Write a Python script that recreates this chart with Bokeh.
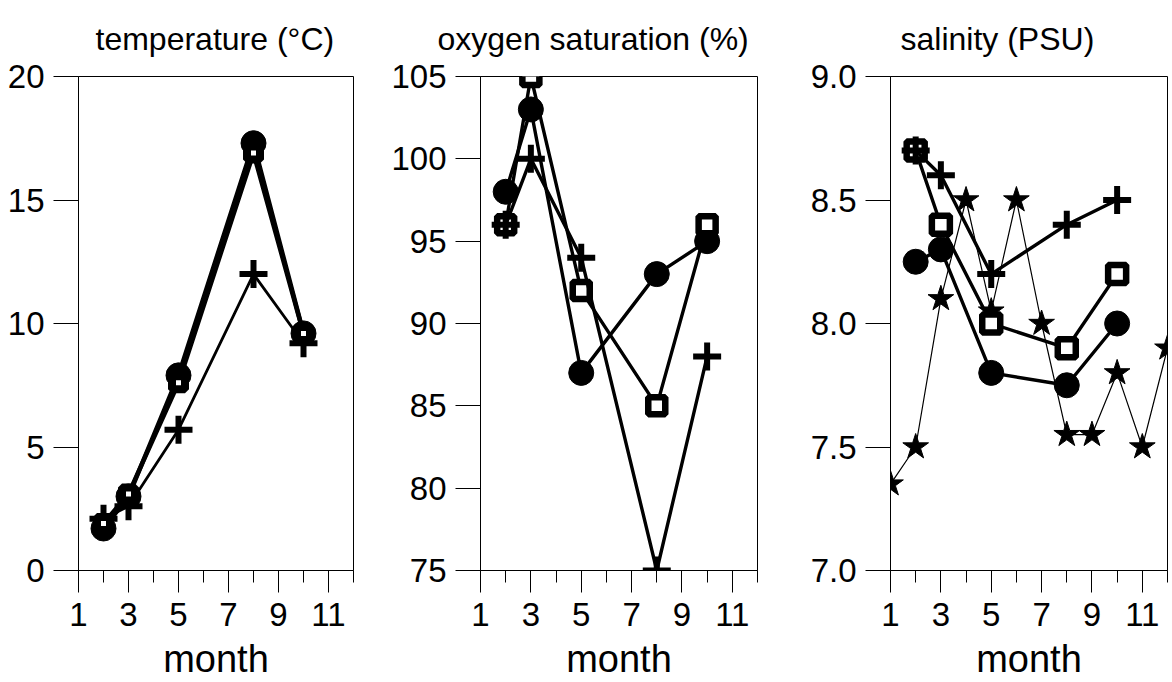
from bokeh.plotting import figure
from bokeh.models import Range1d, FixedTicker, NumeralTickFormatter
from bokeh.layouts import row
from bokeh.embed import file_html
from bokeh.resources import INLINE

# ---------------- data ----------------
months = [2, 3, 5, 8, 10]

temp_circle = [1.7, 3.0, 7.9, 17.3, 9.6]
temp_square = [1.9, 3.1, 7.6, 16.9, 9.6]
temp_plus = [2.1, 2.6, 5.7, 12.0, 9.2]

oxy_circle = [98, 103, 87, 93, 95]
oxy_square = [96, 105, 92, 85, 96]
oxy_plus = [96, 100, 94, 75, 88]

sal_circle = [8.25, 8.3, 7.8, 7.75, 8.0]
sal_square = [8.7, 8.4, 8.0, 7.9, 8.2]
sal_plus = [8.7, 8.6, 8.2, 8.4, 8.5]

star_months = [1, 2, 3, 4, 5, 6, 7, 8, 9, 10, 11, 12]
sal_star = [7.35, 7.5, 8.1, 8.5, 8.05, 8.5, 8.0, 7.55, 7.55, 7.8, 7.5, 7.9]

titles = ["temperature (\u00b0C)", "oxygen saturation (%)", "salinity (PSU)"]
x_label = "month"
x_major = [1, 3, 5, 7, 9, 11]
x_minor = [2, 4, 6, 8, 10, 12]
temp_ticks = [0, 5, 10, 15, 20]
oxy_ticks = [75, 80, 85, 90, 95, 100, 105]
sal_ticks = [7.0, 7.5, 8.0, 8.5, 9.0]

FONT = "Liberation Sans"


def make_fig(title, width, mbl, mbr, yr, yticks, fmt, title_offset, title_standoff):
    p = figure(width=width, height=682, output_backend="svg", toolbar_location=None,
               x_range=Range1d(1, 12), y_range=Range1d(*yr),
               min_border_left=mbl, min_border_right=mbr,
               min_border_top=76, min_border_bottom=60,
               background_fill_color="white", border_fill_color="white")
    p.title.text = title
    p.title.text_font = FONT
    p.title.text_font_size = "32px"
    p.title.text_font_style = "normal"
    p.title.text_color = "black"
    p.title.align = "left"
    p.title.offset = title_offset
    p.title.vertical_align = "top"
    p.title.standoff = title_standoff
    p.grid.visible = False
    p.outline_line_color = "black"
    p.outline_line_width = 1
    p.outline_line_alpha = 1

    xa = p.xaxis[0]
    xa.ticker = FixedTicker(ticks=x_major, minor_ticks=x_minor)
    xa.axis_label = x_label
    xa.axis_label_text_font = FONT
    xa.axis_label_text_font_size = "38px"
    xa.axis_label_text_font_style = "normal"
    xa.axis_label_text_color = "black"
    xa.axis_label_standoff = 9
    xa.major_label_text_font = FONT
    xa.major_label_text_font_size = "33px"
    xa.major_label_text_color = "black"
    xa.major_label_standoff = 10
    xa.major_tick_out = 22
    xa.major_tick_in = 0
    xa.minor_tick_out = 12
    xa.minor_tick_in = 0
    xa.major_tick_line_color = "black"
    xa.minor_tick_line_color = "black"
    xa.axis_line_color = "black"

    ya = p.yaxis[0]
    ya.ticker = FixedTicker(ticks=yticks, minor_ticks=[])
    if fmt:
        ya.formatter = NumeralTickFormatter(format=fmt)
    ya.major_label_text_font = FONT
    ya.major_label_text_font_size = "33px"
    ya.major_label_text_color = "black"
    ya.major_label_standoff = 9
    ya.major_tick_out = 25
    ya.major_tick_in = 0
    ya.major_tick_line_color = "black"
    ya.minor_tick_line_color = None
    ya.axis_line_color = "black"
    return p


def add_series(p, xs, ys, kind, lw=3.4, sq_size=17, sq_lw=6.5):
    p.line(xs, ys, line_color="black", line_width=lw)
    if kind == "circle":
        p.scatter(xs, ys, marker="circle", size=25, fill_color="black", line_color="black")
    elif kind == "square":
        p.scatter(xs, ys, marker="square", size=sq_size, fill_color="white",
                  line_color="black", line_width=sq_lw)
    elif kind == "plus":
        p.scatter(xs, ys, marker="cross", size=28, line_color="black", line_width=6)


# panel 1: temperature
p1 = make_fig(titles[0], 380, 78, 27, (0, 20), temp_ticks, None, 17, 36)
add_series(p1, months, temp_plus, "plus", lw=2.8)
add_series(p1, months, temp_circle, "circle", lw=4.5)
add_series(p1, months, temp_square, "square", lw=4.5, sq_size=13, sq_lw=8)

# panel 2: oxygen saturation
p2 = make_fig(titles[1], 410, 100, 33, (75, 105), oxy_ticks, None, -43, 36)
add_series(p2, months, oxy_circle, "circle")
add_series(p2, months, oxy_square, "square")
add_series(p2, months, oxy_plus, "plus")

# panel 3: salinity
p3 = make_fig(titles[2], 380, 100, 3, (7.0, 9.0), sal_ticks, "0.0", 10, 36)
p3.line(star_months, sal_star, line_color="black", line_width=1.2)
p3.scatter(star_months, sal_star, marker="star", size=27, fill_color="black", line_color="black")
add_series(p3, months, sal_circle, "circle")
add_series(p3, months, sal_square, "square", sq_size=18)
add_series(p3, months, sal_plus, "plus")

layout = row(p1, p2, p3)
open("out.html", "w").write(file_html(layout, INLINE))
